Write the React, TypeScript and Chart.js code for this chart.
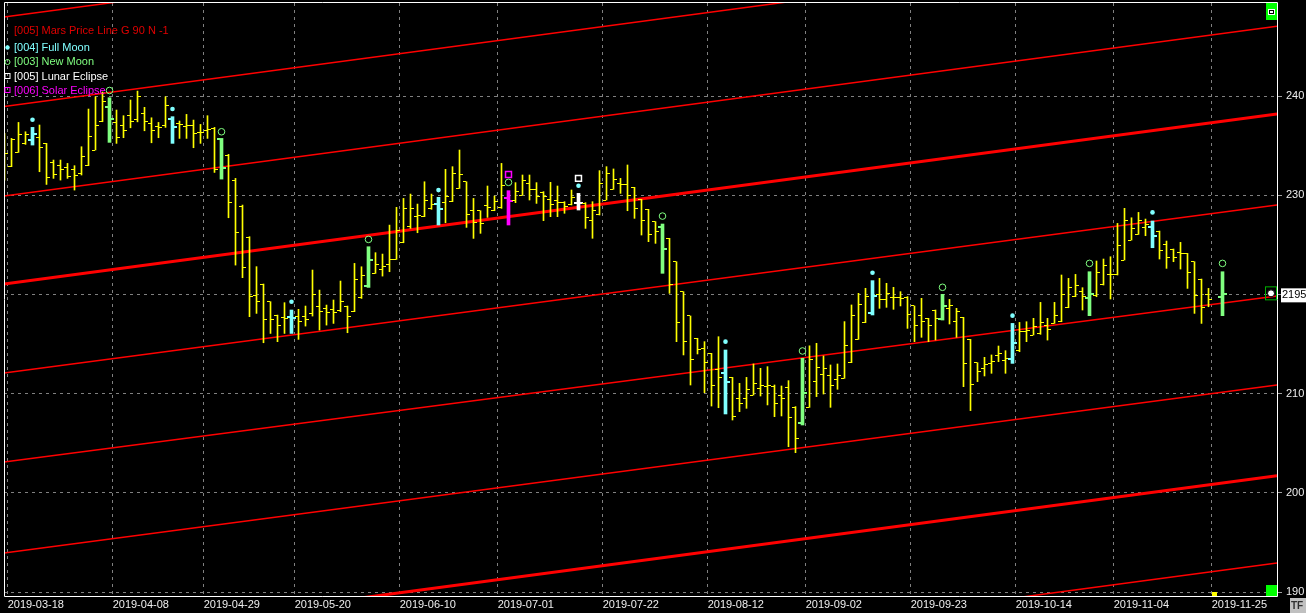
import React, { useEffect, useRef } from 'react';
import { Chart, registerables } from 'chart.js';

Chart.register(...registerables);

// ---------- data ----------
const openPrices: (number | null)[] = [
  231.6, 232.9, 234.32, 235.2, 235.56, 235.8, 235.23, 233.3, 233.04, 232.77,
  232.6, 232.2, 233.04, 234.56, 237.41, 238.86, 237.3, 237.01, 238.0, 237.6,
  238.25, 237.2, 236.9, 237.01, 237.68, 237.24, 236.9, 237.08, 236.3, 236.5,
  236.74, 235.66, 234.0, 231.5, 228.9, 225.7, 219.87, 221.0, 219.27, 217.9,
  217.69, 217.75, 217.8, 217.82, 218.09, 218.83, 218.6, 218.5, 218.36, 218.83,
  218.33, 219.67, 220.85, 222.12, 222.5, 223.0, 223.53, 225.21, 226.83, 227.9,
  227.84, 228.68, 229.11, 229.3, 229.35, 230.69, 231.36, 228.5, 228.44, 229.0,
  228.51, 228.78, 229.69, 229.45, 230.02, 231.2, 230.6, 230.26, 229.59, 229.5,
  229.25, 229.02, 229.25, 229.2, 227.5, 228.01, 229.52, 230.6, 231.2, 231.13,
  230.8, 229.59, 228.58, 227.34, 226.76, 225.66, 223.3, 220.28, 217.83, 215.58,
  214.6, 214.06, 212.45, 212.05, 211.64, 209.53, 209.53, 209.86, 210.5, 210.7,
  210.7, 209.86, 210.6, 208.62, 207.07, 208.62, 211.21, 211.9, 211.78, 211.38,
  211.54, 213.12, 215.47, 217.16, 218.16, 220.01, 219.5, 219.71, 219.71, 219.71,
  218.84, 217.83, 217.59, 218.43, 217.49, 218.6, 217.26, 217.69, 215.47, 213.12,
  212.5, 213.06, 213.8, 213.39, 213.49, 214.3, 216.24, 215.91, 216.07, 216.85,
  217.08, 217.25, 218.66, 219.77, 220.34, 219.67, 219.87, 221.02, 222.02, 221.96,
  223.47, 225.48, 226.05, 226.73, 226.83, 226.39, 225.0, 224.58, 224.24, 224.14,
  223.3, 221.55, 220.01, null, 219.77,
];
const highPrices: (number | null)[] = [
  236.24, 235.73, 237.34, 236.4, 236.84, 237.08, 235.23, 233.55, 233.55, 233.21,
  232.98, 234.89, 238.69, 239.93, 240.4, 239.83, 238.59, 238.02, 239.6, 240.5,
  238.86, 237.81, 237.34, 239.93, 237.92, 237.48, 238.15, 237.58, 237.14, 238.02,
  236.84, 235.73, 234.12, 231.7, 229.01, 225.82, 222.8, 221.05, 219.27, 217.92,
  219.17, 218.43, 218.5, 218.83, 222.46, 220.44, 218.93, 219.44, 221.35, 218.83,
  223.13, 222.79, 224.81, 224.21, 224.07, 226.99, 228.78, 229.68, 230.12, 229.11,
  231.36, 230.12, 229.79, 232.61, 232.88, 234.56, 231.36, 229.68, 228.44, 230.93,
  229.92, 233.21, 230.46, 231.27, 232.04, 232.04, 231.27, 230.36, 231.3, 230.93,
  229.35, 230.53, 230.19, 229.25, 229.35, 232.48, 232.88, 232.65, 231.7, 233.05,
  230.8, 229.59, 228.58, 227.34, 227.1, 225.66, 223.3, 220.28, 217.83, 215.58,
  215.24, 214.06, 215.74, 214.4, 211.64, 211.04, 211.64, 212.99, 212.55, 212.72,
  210.87, 210.77, 211.31, 208.69, 213.56, 214.82, 215.07, 213.8, 212.89, 212.99,
  217.26, 218.94, 220.11, 220.62, 221.39, 221.62, 221.12, 220.72, 220.28, 219.78,
  218.84, 219.61, 217.59, 218.43, 220.01, 219.5, 218.6, 217.69, 215.47, 213.12,
  213.66, 213.9, 214.8, 214.33, 217.08, 217.18, 217.25, 217.59, 219.2, 217.59,
  219.2, 221.96, 221.62, 222.02, 220.68, 222.29, 223.37, 223.57, 223.8, 227.16,
  228.68, 227.73, 228.27, 227.6, 227.4, 226.39, 225.38, 224.58, 225.25, 224.14,
  223.3, 221.55, 220.61, null, 222.29,
];
const lowPrices: (number | null)[] = [
  231.53, 232.88, 234.32, 235.13, 235.06, 232.37, 231.09, 231.7, 231.53, 231.7,
  230.52, 232.04, 232.98, 234.56, 237.41, 235.33, 235.23, 235.8, 236.8, 237.4,
  236.5, 235.29, 235.8, 236.84, 235.23, 235.73, 235.73, 234.79, 235.23, 235.73,
  232.3, 231.63, 227.73, 222.96, 221.69, 217.76, 218.09, 215.13, 216.07, 215.24,
  216.07, 216.07, 215.47, 216.81, 217.82, 216.41, 216.91, 217.08, 218.26, 216.14,
  218.26, 219.6, 220.71, 222.12, 221.85, 222.29, 223.53, 225.21, 226.66, 226.22,
  227.84, 228.58, 227.0, 227.23, 229.35, 230.69, 226.76, 225.65, 226.16, 227.77,
  228.44, 228.68, 227.0, 229.25, 230.02, 229.52, 229.18, 227.44, 227.84, 227.84,
  228.18, 229.02, 228.51, 226.66, 225.66, 228.01, 229.52, 230.6, 230.19, 228.44,
  227.67, 225.99, 225.32, 225.15, 222.13, 220.11, 215.24, 213.9, 210.87, 214.0,
  210.1, 208.75, 208.58, 207.95, 207.34, 208.18, 208.52, 209.86, 209.76, 208.86,
  207.68, 207.75, 204.65, 204.05, 206.84, 208.62, 209.7, 209.96, 208.62, 210.44,
  211.54, 213.12, 215.47, 217.16, 217.93, 218.6, 218.7, 218.5, 218.84, 216.58,
  215.24, 215.68, 215.24, 215.41, 217.42, 217.02, 215.68, 210.7, 208.29, 211.21,
  211.78, 212.05, 213.22, 212.05, 213.05, 214.23, 215.24, 215.91, 215.98, 215.4,
  217.08, 217.25, 218.66, 219.77, 218.43, 217.86, 219.77, 220.95, 219.54, 221.96,
  223.47, 225.48, 226.05, 225.92, 224.71, 223.57, 222.63, 223.3, 222.56, 220.61,
  218.09, 217.08, 218.76, null, 217.86,
];
const closePrices: (number | null)[] = [
  234.22, 235.63, 236.13, 236.13, 236.17, 234.82, 231.8, 232.14, 232.64, 231.87,
  232.04, 233.88, 235.9, 237.0, 239.5, 237.68, 235.83, 236.5, 237.4, 240.0,
  237.48, 236.57, 236.84, 239.0, 236.91, 237.14, 237.08, 236.2, 236.34, 236.6,
  232.6, 232.71, 229.28, 226.26, 222.69, 219.77, 219.27, 217.49, 217.49, 216.91,
  217.59, 217.59, 217.25, 217.5, 220.04, 218.26, 218.16, 218.16, 219.27, 217.75,
  221.5, 221.95, 223.47, 223.06, 222.8, 223.53, 226.49, 228.68, 228.68, 228.0,
  229.52, 229.11, 228.58, 229.85, 232.21, 232.14, 228.07, 227.23, 227.16, 228.78,
  229.35, 231.0, 229.45, 230.36, 231.5, 230.6, 229.9, 229.86, 229.02, 229.25,
  228.85, 229.8, 229.25, 227.77, 228.44, 231.2, 232.21, 231.6, 231.13, 230.0,
  228.68, 227.44, 226.09, 226.33, 224.55, 221.02, 217.15, 215.24, 213.46, 214.47,
  213.12, 210.77, 211.64, 211.14, 207.68, 209.0, 210.44, 211.04, 210.87, 210.77,
  209.02, 209.53, 207.61, 205.5, 210.1, 213.4, 212.65, 212.5, 210.87, 211.78,
  214.9, 217.83, 218.94, 219.8, 219.84, 219.5, 220.05, 219.71, 219.61, 217.93,
  216.82, 217.26, 216.82, 217.59, 218.84, 218.9, 218.26, 213.0, 210.97, 212.22,
  212.89, 213.2, 214.0, 213.5, 215.07, 216.31, 216.41, 216.75, 217.18, 216.5,
  217.92, 220.01, 220.68, 220.88, 219.77, 220.01, 222.22, 222.9, 221.96, 224.98,
  227.5, 226.66, 227.5, 227.06, 225.92, 224.48, 223.7, 223.7, 224.14, 222.22,
  219.87, 218.66, 219.54, null, 220.01,
];

// event bars and marker prices
const fullMoonBars = [4, 24, 41, 62, 82, 103, 124, 144, 164];
const fullMoonMarks = [237.61, 238.69, 219.27, 230.52, 230.96, 215.24, 222.19, 217.86, 228.27];
const newMoonBars = [15, 31, 52, 72, 94, 114, 134, 155, 174];
const newMoonMarks = [240.56, 236.4, 225.55, 231.3, 227.9, 214.3, 220.72, 223.13, 223.13];
const lunarEclipseBars = [82];
const lunarEclipseMarks = [231.7];
const solarEclipseBars = [72];
const solarEclipseMarks = [232.1];

// Mars price lines: price at left edge / right edge of the plot
const marsLineStart = [247.96, 238.94, 229.92, 221.05, 212.08, 203.1, 193.93, 184.6, 175.79];
const marsLineEnd = [265.1, 256.08, 247.03, 238.19, 229.01, 219.84, 210.87, 201.73, 192.93];
const marsMajorLines = [3, 7];

// x-axis labels and the bar each one starts at
const tickLabels = [
  '2019-03-18', '2019-04-08', '2019-04-29', '2019-05-20', '2019-06-10', '2019-07-01', '2019-07-22',
  '2019-08-12', '2019-09-02', '2019-09-23', '2019-10-14', '2019-11-04', '2019-11-25',
];
const tickBars = [1, 16, 29, 42, 57, 71, 86, 101, 115, 130, 145, 159, 173];
const yTicks = [190, 200, 210, 220, 230, 240];
const lastPriceLabel = '2195';

const X_MIN = -0.0714;
const X_MAX = 181.786;
const Y_MIN = 189.6;
const Y_MAX = 249.38;

const FONT = '"Liberation Sans", Arial, sans-serif';
const KIND_COLOR: Record<string, string> = {
  plain: '#ffff00',
  full: '#80ffff',
  new: '#80ff80',
  lunar: '#ffffff',
  solar: '#ff00ff',
};

function kindOf(i: number): string {
  if (solarEclipseBars.includes(i)) return 'solar';
  if (lunarEclipseBars.includes(i)) return 'lunar';
  if (fullMoonBars.includes(i)) return 'full';
  if (newMoonBars.includes(i)) return 'new';
  return 'plain';
}

function tickCanvas(color: string, barW: number, side: 'open' | 'close') {
  const len = 3;
  const c = document.createElement('canvas');
  c.width = barW + 2 * len;
  c.height = barW > 1 ? 2 : 1;
  const g = c.getContext('2d')!;
  g.fillStyle = color;
  if (side === 'open') g.fillRect(0, 0, len, c.height);
  else g.fillRect(len + barW, 0, len, c.height);
  return c;
}

export default function App() {
  const ref = useRef<HTMLCanvasElement>(null);

  useEffect(() => {
    document.body.style.margin = '0';
    document.body.style.background = '#000';
    const canvas = ref.current;
    if (!canvas) return;

    const idx = openPrices.map((_, i) => i).filter((i) => highPrices[i] != null);
    const kinds = ['plain', 'full', 'new', 'lunar', 'solar'];

    const openStyles: Record<string, HTMLCanvasElement> = {};
    const closeStyles: Record<string, HTMLCanvasElement> = {};
    kinds.forEach((k) => {
      const w = k === 'plain' ? 1 : 3;
      openStyles[k] = tickCanvas(KIND_COLOR[k], w, 'open');
      closeStyles[k] = tickCanvas(KIND_COLOR[k], w, 'close');
    });

    const lineSets = marsLineStart.map((s, j) => ({
      type: 'line' as const,
      data: [
        { x: X_MIN, y: s },
        { x: X_MAX, y: marsLineEnd[j] },
      ],
      borderColor: '#ff0000',
      borderWidth: marsMajorLines.includes(j) ? 3 : 1.5,
      pointRadius: 0,
      fill: false,
      order: 10,
    }));

    const barSets = kinds.map((k) => ({
      type: 'bar' as const,
      data: idx
        .filter((i) => kindOf(i) === k)
        .map((i) => ({ x: i, y: [lowPrices[i], highPrices[i]] })),
      backgroundColor: KIND_COLOR[k],
      borderWidth: 0,
      barThickness: k === 'plain' ? 1 : 3,
      grouped: false,
      order: 5,
    }));

    const tickSets = [
      {
        type: 'scatter' as const,
        data: idx.map((i) => ({ x: i, y: openPrices[i], k: kindOf(i) })),
        pointStyle: (c: any) => openStyles[c.raw ? c.raw.k : 'plain'],
        pointRadius: 1,
        order: 4,
      },
      {
        type: 'scatter' as const,
        data: idx.map((i) => ({ x: i, y: closePrices[i], k: kindOf(i) })),
        pointStyle: (c: any) => closeStyles[c.raw ? c.raw.k : 'plain'],
        pointRadius: 1,
        order: 4,
      },
    ];

    const markerSets = [
      {
        type: 'scatter' as const,
        data: fullMoonBars.map((b, j) => ({ x: b, y: fullMoonMarks[j] })),
        pointStyle: 'circle',
        pointRadius: 2.3,
        backgroundColor: '#80ffff',
        borderColor: '#80ffff',
        borderWidth: 0,
        order: 1,
      },
      {
        type: 'scatter' as const,
        data: newMoonBars.map((b, j) => ({ x: b, y: newMoonMarks[j] })),
        pointStyle: 'circle',
        pointRadius: 3.3,
        backgroundColor: 'rgba(0,0,0,0)',
        borderColor: '#80ff80',
        borderWidth: 1,
        order: 1,
      },
      {
        type: 'scatter' as const,
        data: lunarEclipseBars.map((b, j) => ({ x: b, y: lunarEclipseMarks[j] })),
        pointStyle: 'rect',
        pointRadius: 4.2,
        backgroundColor: 'rgba(0,0,0,0)',
        borderColor: '#ffffff',
        borderWidth: 1.5,
        order: 1,
      },
      {
        type: 'scatter' as const,
        data: solarEclipseBars.map((b, j) => ({ x: b, y: solarEclipseMarks[j] })),
        pointStyle: 'rect',
        pointRadius: 4.2,
        backgroundColor: 'rgba(0,0,0,0)',
        borderColor: '#ff00ff',
        borderWidth: 1.5,
        order: 1,
      },
    ];

    const bgPlugin = {
      id: 'bg',
      beforeDraw(chart: any) {
        const { ctx, width, height } = chart;
        ctx.save();
        ctx.fillStyle = '#000';
        ctx.fillRect(0, 0, width, height);
        ctx.restore();
      },
    };

    const decoPlugin = {
      id: 'deco',
      afterDraw(chart: any) {
        const { ctx, chartArea: a } = chart;
        ctx.save();
        // plot frame
        ctx.strokeStyle = '#ffffff';
        ctx.lineWidth = 1;
        ctx.beginPath();
        ctx.moveTo(a.left + 0.5, a.top - 0.5);
        ctx.lineTo(a.left + 0.5, a.bottom + 0.5);
        ctx.lineTo(a.right + 0.5, a.bottom + 0.5);
        ctx.lineTo(a.right + 0.5, a.top - 0.5);
        ctx.lineTo(a.left + 0.5, a.top - 0.5);
        ctx.stroke();

        // legend
        ctx.font = '11px ' + FONT;
        ctx.textBaseline = 'middle';
        ctx.textAlign = 'left';
        const lx = a.left + 10;
        ctx.fillStyle = '#e00000';
        ctx.fillText('[005] Mars Price Line G 90 N -1', lx, 31);
        const mx = a.left + 3.5;
        ctx.fillStyle = KIND_COLOR.full;
        ctx.beginPath();
        ctx.arc(mx, 47.5, 2.2, 0, Math.PI * 2);
        ctx.fill();
        ctx.fillText('[004] Full Moon', lx, 48);
        ctx.strokeStyle = KIND_COLOR.new;
        ctx.beginPath();
        ctx.arc(mx, 62, 2.5, 0, Math.PI * 2);
        ctx.stroke();
        ctx.fillStyle = KIND_COLOR.new;
        ctx.fillText('[003] New Moon', lx, 62);
        ctx.strokeStyle = '#ffffff';
        ctx.strokeRect(mx - 2.5, 73.5, 5, 5);
        ctx.fillStyle = '#ffffff';
        ctx.fillText('[005] Lunar Eclipse', lx, 76.5);
        ctx.strokeStyle = KIND_COLOR.solar;
        ctx.strokeRect(mx - 2.5, 87.5, 5, 5);
        ctx.fillStyle = KIND_COLOR.solar;
        ctx.fillText('[006] Solar Eclipse', lx, 90.5);

        // right-edge widgets
        const rx = a.right - 11;
        ctx.fillStyle = '#00ff00';
        ctx.fillRect(rx, a.top, 11, 17);
        ctx.fillStyle = '#ffffff';
        ctx.fillRect(rx + 2, a.top + 6, 7, 6);
        ctx.fillStyle = '#000000';
        ctx.fillRect(rx + 3, a.top + 7, 5, 4);
        ctx.fillStyle = '#ffffff';
        ctx.fillRect(rx + 4, a.top + 8, 3, 2);
        ctx.fillStyle = '#00ff00';
        ctx.fillRect(rx, a.bottom - 11, 11, 11);

        const yLast = chart.scales.y.getPixelForValue(closePrices[closePrices.length - 1] as number);
        ctx.strokeStyle = '#00b000';
        ctx.lineWidth = 1;
        ctx.strokeRect(rx - 0.5, yLast - 7.5, 11, 13);
        ctx.fillStyle = '#ffffff';
        ctx.beginPath();
        ctx.arc(rx + 5, yLast - 1, 3.5, 0, Math.PI * 2);
        ctx.fill();
        ctx.strokeStyle = '#000000';
        ctx.stroke();

        ctx.fillStyle = '#ffffff';
        ctx.fillRect(a.right + 4, yLast - 6, 30, 14);
        ctx.fillStyle = '#000000';
        ctx.font = '11px ' + FONT;
        ctx.fillText(lastPriceLabel, a.right + 5, yLast + 1);

        // small current-date marker
        const xd = chart.scales.x.getPixelForValue(tickBars[tickBars.length - 1]);
        ctx.fillStyle = '#ffff00';
        ctx.fillRect(Math.round(xd) - 3, a.bottom - 4, 5, 4);

        // TF box
        ctx.fillStyle = '#c0c0c0';
        ctx.fillRect(1290, 598, 16, 15);
        ctx.fillStyle = '#303030';
        ctx.font = 'bold 10px ' + FONT;
        ctx.fillText('TF', 1291, 606);
        ctx.restore();
      },
    };

    const chart = new Chart(canvas, {
      type: 'scatter',
      data: { datasets: [...lineSets, ...barSets, ...tickSets, ...markerSets] as any },
      options: {
        responsive: false,
        maintainAspectRatio: false,
        animation: false,
        events: [],
        layout: { autoPadding: false, padding: { left: 4, top: 3, right: 0, bottom: 0 } },
        plugins: { legend: { display: false }, tooltip: { enabled: false } },
        scales: {
          x: {
            type: 'linear',
            min: X_MIN,
            max: X_MAX,
            offset: false,
            afterBuildTicks: (s: any) => {
              s.ticks = tickBars.map((b) => ({ value: b - 0.55 }));
            },
            afterFit: (s: any) => {
              s.height = 17;
              s.paddingLeft = 0;
              s.paddingRight = 0;
            },
            grid: { color: '#808080', lineWidth: 1, drawTicks: false, offset: false },
            border: { display: false, dash: [3, 4] },
            ticks: {
              autoSkip: false,
              maxRotation: 0,
              minRotation: 0,
              align: 'start',
              padding: 2,
              color: '#eeeeee',
              font: { family: FONT, size: 11 },
              callback: (_v: any, i: number) => tickLabels[i],
            },
          },
          y: {
            type: 'linear',
            position: 'right',
            min: Y_MIN,
            max: Y_MAX,
            afterBuildTicks: (s: any) => {
              s.ticks = yTicks.map((v) => ({ value: v }));
            },
            afterFit: (s: any) => {
              s.width = 29;
              s.paddingTop = 0;
              s.paddingBottom = 0;
            },
            grid: { color: '#808080', lineWidth: 1, drawTicks: true, tickLength: 5, tickColor: '#a0a0a0' },
            border: { display: false, dash: [3, 4] },
            ticks: {
              padding: 4,
              color: '#eeeeee',
              font: { family: FONT, size: 11 },
              callback: (v: any) => String(v),
            },
          },
        },
      },
      plugins: [bgPlugin, decoPlugin],
    } as any);

    return () => chart.destroy();
  }, []);

  return (
    <div style={{ width: 1306, height: 613, background: '#000' }}>
      <canvas ref={ref} width={1306} height={613} style={{ display: 'block' }} />
    </div>
  );
}
